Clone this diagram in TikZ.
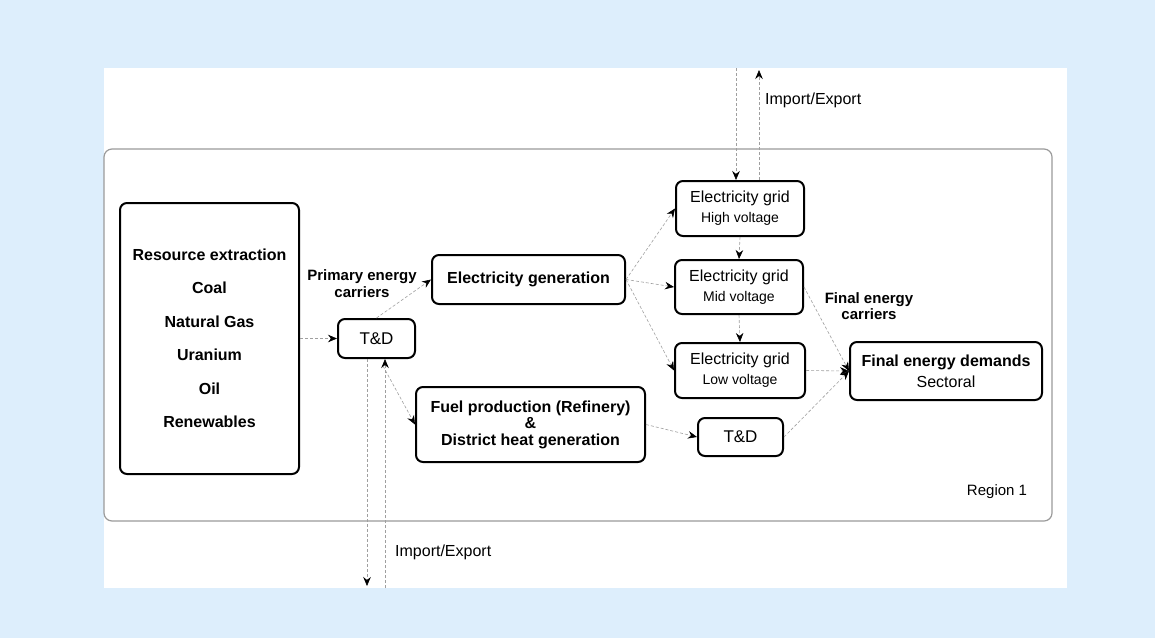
\documentclass[tikz,border=0pt]{standalone}
\usepackage{fontspec}
\setmainfont{Liberation Sans}
\usetikzlibrary{arrows.meta, positioning}
\definecolor{bgblue}{RGB}{221,238,252}
\definecolor{regiongray}{RGB}{155,155,155}
\tikzset{
  blk/.style={draw, line width=2pt, rounded corners=7pt, align=center, inner sep=0pt},
  flow/.style={draw=gray!75, line width=0.6pt, dash pattern=on 3pt off 2pt,
    -{Stealth[length=9pt,width=7.5pt,inset=3pt,black]}},
  lbl/.style={align=center, inner sep=0pt},
}
\begin{document}
\begin{tikzpicture}[x=1pt,y=-1pt]
  \fill[bgblue] (0,0) rectangle (1155,638); %background
  \fill[white] (104,68) rectangle (1067,588);
  \draw[regiongray, line width=1.2pt, rounded corners=8pt] (104,149) rectangle (1052,521); %region
  \node[lbl, font=\fontsize{15}{15}\selectfont] (reg) at (997,492) {Region 1};

  \node[blk, minimum width=179pt, minimum height=271pt,
    font=\bfseries\fontsize{16}{33.5}\selectfont] (res) at (209.5,338.5)
    {Resource extraction\\Coal\\Natural Gas\\Uranium\\Oil\\Renewables};
  \node[blk, minimum width=77pt, minimum height=39pt, font=\fontsize{17}{17}\selectfont]
    (tdA) at (376.5,338.5) {T\&D};
  \node[blk, minimum width=193pt, minimum height=49pt, font=\bfseries\fontsize{16}{17}\selectfont]
    (gen) at (528.5,279.5) {Electricity generation};
  \node[blk, minimum width=229pt, minimum height=75pt, font=\bfseries\fontsize{16}{16.5}\selectfont]
    (fuel) at (530.5,424.5) {Fuel production (Refinery)\\\&\\District heat generation};
  \node[blk, minimum width=128pt, minimum height=55pt, font=\fontsize{16}{20}\selectfont]
    (hv) at (740,208.5) {Electricity grid\\{\fontsize{14}{20}\selectfont High voltage}};
  \node[blk, minimum width=128pt, minimum height=54pt, font=\fontsize{16}{20}\selectfont]
    (mv) at (739,287) {Electricity grid\\{\fontsize{14}{20}\selectfont Mid voltage}};
  \node[blk, minimum width=130pt, minimum height=55pt, font=\fontsize{16}{20}\selectfont]
    (lv) at (740,370.5) {Electricity grid\\{\fontsize{14}{20}\selectfont Low voltage}};
  \node[blk, minimum width=85pt, minimum height=38pt, font=\fontsize{17}{17}\selectfont]
    (tdB) at (740.5,437) {T\&D};
  \node[blk, minimum width=192pt, minimum height=58pt, font=\fontsize{16}{21}\selectfont]
    (dem) at (946,371) {\textbf{Final energy demands}\\Sectoral};

  \node[lbl, font=\bfseries\fontsize{15}{17}\selectfont] (prim) at (362,284) {Primary energy\\carriers};
  \node[lbl, font=\bfseries\fontsize{15}{15.5}\selectfont] (fec) at (869,306) {Final energy\\carriers};

  \draw[flow] (res.east) -- (tdA.west);
  \draw[flow] (tdA.north) -- (gen.west);
  \draw[flow] (gen.east) -- (hv.west);
  \draw[flow] (gen.east) -- (mv.west);
  \draw[flow] (gen.east) -- (lv.west);
  \draw[flow] (hv.south) -- (mv.north);
  \draw[flow] (mv.south) -- (lv.north);
  \draw[flow] (fuel.east) -- (tdB.west);
  \draw[flow] (mv.east) -- (dem.west);
  \draw[flow] (lv.east) -- (dem.west);
  \draw[flow] (tdB.east) -- (dem.west);

  %import/export, top
  \coordinate (topin) at (736,68);
  \coordinate (topout) at (759,70);
  \draw[flow] (topin) -- (topin |- hv.north);
  \draw[flow] (topout |- hv.north) -- (topout);
  \node[lbl, anchor=west, font=\fontsize{16}{16}\selectfont] (ieA) at (765,100) {Import/Export};

  %import/export, bottom
  \coordinate (botout) at (367,586);
  \coordinate (botin) at (385,588);
  \coordinate (fork) at (383,366);
  \draw[flow] (botout |- tdA.south) -- (botout);
  \draw[flow] (botin) -- (botin |- tdA.south);
  \draw[flow] (fork) -- (fuel.west);
  \node[lbl, anchor=west, font=\fontsize{16}{16}\selectfont] (ieB) at (395,552) {Import/Export};
\end{tikzpicture}
\end{document}
